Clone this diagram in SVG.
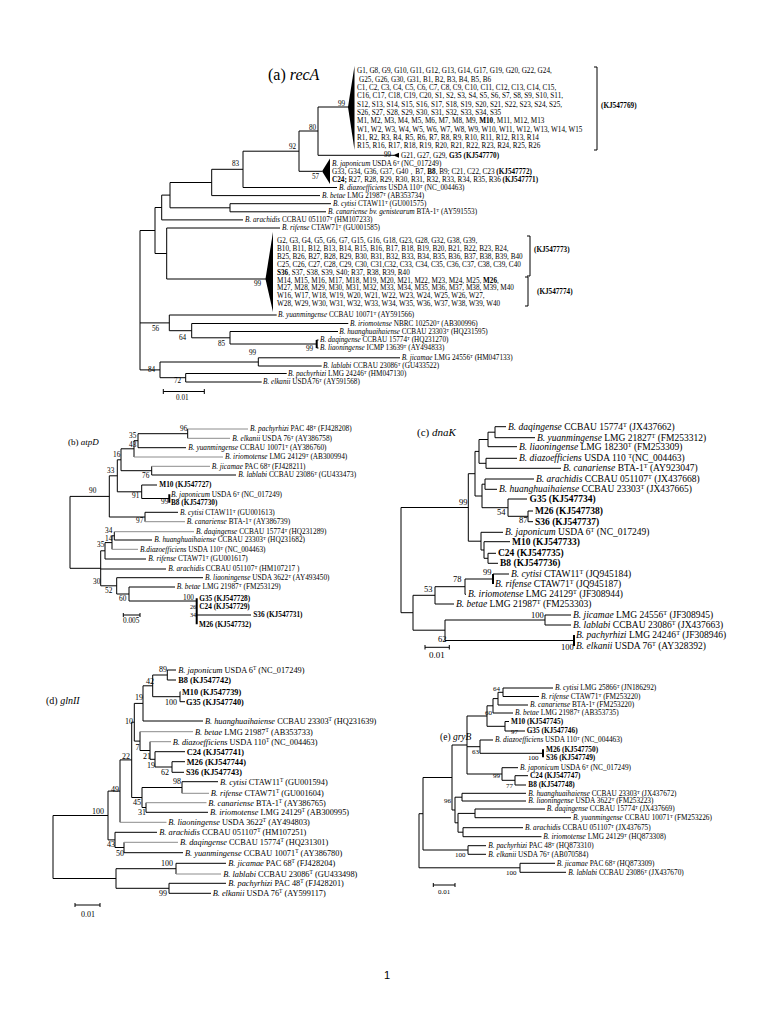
<svg xmlns="http://www.w3.org/2000/svg" width="768" height="1024" viewBox="0 0 768 1024">
<style>
text{font-family:"Liberation Serif","Times New Roman",serif;fill:#000}
.a{font-size:7.2px}
.b{font-size:7.3px}
.c{font-size:9.5px}
.d{font-size:8.3px}
.e{font-size:7.3px}
.i{font-style:italic}
.bo{font-weight:bold}
.s{baseline-shift:super;font-size:65%}
.ln{fill:none;stroke:#000;stroke-width:1}
.gr{fill:none;stroke:#8c8c8c;stroke-width:1}
.th{fill:none;stroke:#000;stroke-width:2}
.ttl{font-size:16px}
</style>
<rect width="768" height="1024" fill="#fff"/>

<!-- ================= (a) recA ================= -->
<g id="recA">
<text x="268" y="80" class="ttl">(a) <tspan class="i">recA</tspan></text>
<g id="connectors-recA">
<path class="ln" d="M318,107V155.3M318,107H349M318,155.3H394M299,131H318
M299,131V171.3M299,171.3H322M243,151.2H299
M243,151.2V187.5M243,187.5H337M211.7,169.3H243
M211.7,169.3V195.6M211.7,195.6H320M170,182.5H211.7
M230,203.7V211.8M230,203.7H331M230,211.8H326M170,207.8H230
M170,182.5V207.8M161.7,195.1H170
M161.7,195.1V219.9M161.7,219.9H243M155,207.5H161.7
M166.7,228V279M166.7,228H280M166.7,279H266M155,253.5H166.7
M155,207.5V253.5M140,230.5H155
M169.3,315V330.7M169.3,315H276.7M140,322.9H169.3
M191.7,323.5V337.8M191.7,323.5H348.3M169.3,330.7H191.7
M230,331.5V344M230,331.5H338M230,344H316.7M191.7,337.8H230
M316.7,340H318.5M316.7,348H318.5
M160,362V377.7M140,369.9H160
M258.3,357.8V366M258.3,357.8H400M258.3,366H321.7M160,362H258.3
M185.7,373.5V382M185.7,373.5H286.7M185.7,382H261.7M160,377.7H185.7
M140,230.5V369.9
M163.3,391.5H204.3M163.3,389V394M204.3,389V394
M594,67H597V150H594M527,236H530V276H527M525,277H528V306H525"/>
<path class="th" d="M316.7,340V348"/>
<polygon points="348,107 354.5,66 354.5,150" fill="#000"/>
<polygon points="393,155.3 399,152.8 399,157.8" fill="#000"/>
<polygon points="322,171.3 330,158.5 330,184" fill="#000"/>
<polygon points="265.5,279 273,232 273,312" fill="#000"/>
</g>
<g id="labels-recA" class="a">
<text x="338" y="105.5">99</text>
<text x="309" y="129.5">80</text>
<text x="289" y="149.2">92</text>
<text x="384" y="156.8">99</text>
<text x="312" y="178.5">57</text>
<text x="232" y="166">83</text>
<text x="254" y="285.5">99</text>
<text x="152" y="330.5">56</text>
<text x="179" y="340">64</text>
<text x="218" y="345.5">85</text>
<text x="306" y="350.5">99</text>
<text x="249" y="355">99</text>
<text x="148" y="372">84</text>
<text x="174" y="383">72</text>
<text x="176" y="400">0.01</text>
</g>
<g id="a-clade1" class="a">
<text x="357" y="73.4">G1, G8, G9, G10, G11, G12, G13, G14,  G17, G19, G20, G22, G24,</text>
<text x="359" y="81.7">G25, G26, G30, G31, B1, B2, B3, B4, B5, B6</text>
<text x="357" y="90">C1, C2, C3, C4, C5, C6, C7, C8, C9, C10, C11, C12, C13, C14, C15,</text>
<text x="357" y="98.3">C16, C17, C18, C19, C20, S1, S2, S3, S4, S5, S6, S7, S8, S9, S10, S11,</text>
<text x="357" y="106.6">S12, S13, S14, S15, S16, S17, S18, S19, S20, S21, S22, S23, S24, S25,</text>
<text x="357" y="114.9">S26, S27, S28, S29, S30, S31, S32, S33, S34, S35</text>
<text x="357" y="123.2">M1, M2, M3, M4, M5, M6, M7, M8, M9, <tspan class="bo">M10</tspan>, M11, M12, M13</text>
<text x="357" y="131.5">W1, W2, W3, W4, W5, W6, W7, W8, W9, W10, W11, W12, W13, W14, W15</text>
<text x="357" y="139.8">R1, R2, R3, R4, R5, R6, R7, R8, R9, R10, R11, R12, R13, R14</text>
<text x="357" y="148.1">R15, R16, R17, R18, R19, R20, R21, R22, R23, R24, R25, R26</text>
<text x="601" y="108.4" class="bo">(KJ547769)</text>
</g>
<g id="a-G21" class="a"><text x="401" y="157.7">G21, G27, G29, <tspan class="bo">G35 (KJ547770)</tspan></text></g>
<g id="a-japonicum" class="a"><text x="332" y="165.6"><tspan class="i">B. japonicum</tspan> USDA 6<tspan class="s">T</tspan> (NC_017249)</text></g>
<g id="a-G33" class="a"><text x="332" y="173.7">G33, G34, G36, G37, G40，B7, <tspan class="bo">B8</tspan>, B9; C21, C22, C23 <tspan class="bo">(KJ547772)</tspan></text></g>
<g id="a-C24" class="a"><text x="332" y="181.8"><tspan class="bo">C24;</tspan>  R27, R28, R29, R30, R31, R32, R33, R34, R35, R36 <tspan class="bo">(KJ547771)</tspan></text></g>
<g id="a-diazo" class="a"><text x="339" y="189.9"><tspan class="i">B. diazoefficiens</tspan> USDA 110<tspan class="s">T</tspan> (NC_004463)</text></g>
<g id="a-betae" class="a"><text x="322" y="198"><tspan class="i">B. betae</tspan> LMG 21987<tspan class="s">T</tspan> (AB353734)</text></g>
<g id="a-cytisi" class="a"><text x="333" y="206.1"><tspan class="i">B. cytisi</tspan> CTAW11<tspan class="s">T</tspan> (GU001575)</text></g>
<g id="a-canariense" class="a"><text x="328" y="214.2"><tspan class="i">B. canariense bv. genistearum</tspan> BTA-1<tspan class="s">T</tspan> (AY591553)</text></g>
<g id="a-arachidis" class="a"><text x="245" y="222.3"><tspan class="i">B. arachidis</tspan> CCBAU 051107<tspan class="s">T</tspan> (HM107233)</text></g>
<g id="a-rifense" class="a"><text x="282" y="230.4"><tspan class="i">B. rifense</tspan>  CTAW71<tspan class="s">T</tspan> (GU001585)</text></g>
<g id="a-clade2" class="a">
<text x="277" y="243.4">G2, G3, G4, G5, G6, G7, G15, G16, G18, G23, G28, G32, G38, G39,</text>
<text x="277" y="251.4">B10, B11, B12, B13, B14, B15, B16, B17, B18, B19, B20, B21, B22, B23, B24,</text>
<text x="277" y="259.4">B25, B26, B27, B28, B29, B30, B31, B32, B33, B34, B35, B36, B37, B38, B39, B40</text>
<text x="277" y="267.4">C25, C26, C27, C28, C29, C30, C31,C32, C33, C34, C35, C36, C37, C38, C39, C40</text>
<text x="277" y="274.9"><tspan class="bo">S36</tspan>, S37, S38, S39, S40; R37, R38, R39, R40</text>
<text x="277" y="282.9">M14, M15, M16, M17, M18, M19, M20, M21, M22, M23, M24, M25, <tspan class="bo">M26</tspan>,</text>
<text x="277" y="290.4">M27, M28, M29, M30, M31, M32, M33, M34, M35, M36, M37, M38, M39, M40</text>
<text x="277" y="298.4">W16, W17, W18, W19, W20, W21, W22, W23, W24, W25, W26, W27,</text>
<text x="277" y="305.9">W28, W29,  W30, W31, W32, W33, W34, W35, W36, W37, W38, W39, W40</text>
<text x="534" y="252.4" class="bo">(KJ547773)</text>
<text x="537" y="294" class="bo">(KJ547774)</text>
</g>
<g id="a-yuanmingense" class="a"><text x="278" y="317.4"><tspan class="i">B. yuanmingense</tspan> CCBAU 10071<tspan class="s">T</tspan> (AY591566)</text></g>
<g id="a-iriomotense" class="a"><text x="350" y="325.9"><tspan class="i">B. iriomotense</tspan> NBRC 102520<tspan class="s">T</tspan> (AB300996)</text></g>
<g id="a-huanghuaihaiense" class="a"><text x="339.3" y="333.9"><tspan class="i">B. huanghuaihaiense</tspan> CCBAU 23303<tspan class="s">T</tspan> (HQ231595)</text></g>
<g id="a-daqingense" class="a"><text x="320" y="342.4"><tspan class="i">B. daqingense</tspan> CCBAU 15774<tspan class="s">T</tspan>  (HQ231270)</text></g>
<g id="a-liaoningense" class="a"><text x="320" y="350.4"><tspan class="i">B. liaoningense</tspan> ICMP 13639<tspan class="s">T</tspan> (AY494833)</text></g>
<g id="a-jicamae" class="a"><text x="401.7" y="360.2"><tspan class="i">B. jicamae</tspan> LMG 24556<tspan class="s">T</tspan> (HM047133)</text></g>
<g id="a-lablabi" class="a"><text x="323" y="368.4"><tspan class="i">B. lablabi</tspan> CCBAU 23086<tspan class="s">T</tspan> (GU433522)</text></g>
<g id="a-pachyrhizi" class="a"><text x="288" y="375.9"><tspan class="i">B. pachyrhizi</tspan> LMG 24246<tspan class="s">T</tspan> (HM047130)</text></g>
<g id="a-elkanii" class="a"><text x="263" y="384.4"><tspan class="i">B. elkanii</tspan> USDA76<tspan class="s">T</tspan> (AY591568)</text></g>
</g>

<!-- ================= (b) atpD ================= -->
<g id="atpD">
<text x="68" y="444.5" style="font-size:9px">(b) <tspan class="i">atpD</tspan></text>
<g id="connectors-atpD">
<path class="ln" d="M187.7,429V438.3M138,433.7H187.7M138,447.7H186
M138,433.7V447.7M134,440.7H138
M134,440.7V457M121,448.8H134
M151.7,466.3V475M151.7,475H236M121,470.7H151.7
M121,448.8V470.7M117.3,459.8H121
M141.7,485V498.5M141.7,485H157M141.7,498.5H169.3
M117.3,459.8V491.8M117.3,491.8H141.7
M145,512.3V521.7M145,512.3H178
M109.3,475.8V517M109.3,475.8H117.3M109.3,517H145
M70,496.4H109.3M70,496.4V568.3M70,568.3H100.7
M114.3,531.7V540M114.3,540H152
M112,535.8V549.3M112,535.8H114.3
M105,542.6V559M105,542.6H112M105,559H146
M100.7,550.8V585.8M100.7,550.8H105M100.7,569H166M100.7,585.8H116.7
M116.7,577.7V594M116.7,577.7H203M116.7,594H129
M129,587V601M129,587H175M129,601H196.7
M196.7,615H251
M123.3,615H140M123.3,613V617M140,613V617"/>
<path class="gr" d="M187.7,429H248M187.7,438.3H230M134,457H223M151.7,466.3H210M145,521.7H185M114.3,531.7H194M112,549.3H138"/>
<path class="th" d="M169.3,494.3V502.7M196.7,598.3V624.3"/>
</g>
<g id="labels-atpD" class="b">
<text x="180" y="431">96</text>
<text x="129" y="438">35</text>
<text x="129" y="447">43</text>
<text x="113" y="457">16</text>
<text x="142" y="478">76</text>
<text x="107" y="473">33</text>
<text x="89" y="493">90</text>
<text x="132" y="497.5">91</text>
<text x="161" y="504">99</text>
<text x="136" y="522.5">97</text>
<text x="105" y="533">34</text>
<text x="105" y="541">14</text>
<text x="97" y="547">35</text>
<text x="93" y="583.5">30</text>
<text x="105" y="593">52</text>
<text x="119" y="601">60</text>
<text x="183" y="600">100</text>
<text x="190" y="609.3" style="font-size:6.2px">26</text>
<text x="190" y="617" style="font-size:6.2px">34</text>
<text x="123" y="622.5">0.005</text>
</g>
<g id="b-pachyrhizi" class="b"><text x="250" y="431.4"><tspan class="i">B. pachyrhizi</tspan> PAC 48<tspan class="s">T</tspan> (FJ428208)</text></g>
<g id="b-elkanii" class="b"><text x="232.3" y="440.7"><tspan class="i">B. elkanii</tspan> USDA 76<tspan class="s">T</tspan> (AY386758)</text></g>
<g id="b-yuanmingense" class="b"><text x="188.3" y="450.1"><tspan class="i">B. yuanmingense</tspan> CCBAU 10071<tspan class="s">T</tspan> (AY386760)</text></g>
<g id="b-iriomotense" class="b"><text x="225" y="459.4"><tspan class="i">B. iriomotense</tspan> LMG 24129<tspan class="s">T</tspan> (AB300994)</text></g>
<g id="b-jicamae" class="b"><text x="211.7" y="468.7"><tspan class="i">B. jicamae</tspan> PAC 68<tspan class="s">T</tspan> (FJ428211)</text></g>
<g id="b-lablabi" class="b"><text x="238.3" y="477.4"><tspan class="i">B. lablabi</tspan> CCBAU 23086<tspan class="s">T</tspan> (GU433473)</text></g>
<g id="b-M10" class="b"><text x="159.3" y="487.4" class="bo">M10 (KJ547727)</text></g>
<g id="b-japonicum" class="b"><text x="171" y="496.7"><tspan class="i">B. japonicum</tspan> USDA 6<tspan class="s">T</tspan> (NC_017249)</text></g>
<g id="b-B8" class="b"><text x="171" y="505.1" class="bo">B8 (KJ547730)</text></g>
<g id="b-cytisi" class="b"><text x="180" y="514.7"><tspan class="i">B. cytisi</tspan> CTAW11<tspan class="s">T</tspan> (GU001613)</text></g>
<g id="b-canariense" class="b"><text x="186.7" y="524.1"><tspan class="i">B. canariense</tspan> BTA-1<tspan class="s">T</tspan> (AY386739)</text></g>
<g id="b-daqingense" class="b"><text x="196" y="534.1"><tspan class="i">B. daqingense</tspan> CCBAU 15774<tspan class="s">T</tspan> (HQ231289)</text></g>
<g id="b-huanghuaihaiense" class="b"><text x="154.3" y="542.4"><tspan class="i">B. huanghuaihaiense</tspan> CCBAU 23303<tspan class="s">T</tspan> (HQ231682)</text></g>
<g id="b-diazoefficiens" class="b"><text x="140" y="551.7"><tspan class="i">B.diazoefficiens</tspan> USDA 110<tspan class="s">T</tspan> (NC_004463)</text></g>
<g id="b-rifense" class="b"><text x="148.3" y="561.4"><tspan class="i">B. rifense</tspan> CTAW71<tspan class="s">T</tspan> (GU001617)</text></g>
<g id="b-arachidis" class="b"><text x="168.3" y="571.4"><tspan class="i">B. arachidis</tspan> CCBAU 051107<tspan class="s">T</tspan> (HM107217 )</text></g>
<g id="b-liaoningense" class="b"><text x="205" y="580.1"><tspan class="i">B. liaoningense</tspan> USDA 3622<tspan class="s">T</tspan> (AY493450)</text></g>
<g id="b-betae" class="b"><text x="176.7" y="589.4"><tspan class="i">B. betae</tspan> LMG 21987<tspan class="s">T</tspan> (FM253129)</text></g>
<g id="b-G35" class="b"><text x="199.3" y="600.7" class="bo">G35 (KJ547728)</text></g>
<g id="b-C24" class="b"><text x="199.3" y="608.7" class="bo">C24 (KJ547729)</text></g>
<g id="b-S36" class="b"><text x="253.3" y="617.4" class="bo">S36 (KJ547731)</text></g>
<g id="b-M26" class="b"><text x="199" y="626.7" class="bo">M26 (KJ547732)</text></g>
</g>

<!-- ================= (c) dnaK ================= -->
<g id="dnaK">
<text x="417" y="436" style="font-size:11px">(c) <tspan class="i">dnaK</tspan></text>
<g id="connectors-dnaK">
<path class="ln" d="M495,426.7V437.7M495,426.7H506M495,437.7H535
M488,432.2V446.7M488,432.2H495M488,446.7H517
M486,458.3V468.3M486,458.3H517M486,468.3H561
M479,439.5V463.3M479,439.5H488M479,463.3H486
M485,479V489.3M485,479H534M485,489.3H497
M528,511V521.7M528,511H533M528,521.7H533
M508,499V516.3M508,499H527M508,516.3H528
M482,484.2V507.7M482,484.2H485M482,507.7H508
M475,451.4V496M475,451.4H479M475,496H482
M488,553.3V563.3M488,553.3H496M488,563.3H498
M484,541.7V558.3M484,541.7H510M484,558.3H488
M481,532.3V550M481,532.3H503M481,550H484
M468.3,473.7V541.2M468.3,473.7H475M468.3,541.2H481
M401,507.5H468.3M401,507.5V612.7M401,612.7H413
M493,574H509
M465,579V594.3M465,579H493M465,594.3H466
M435,586.7V604M435,586.7H465M435,604H454
M545,615V625M545,615H571M545,625H571
M445,620V640.5M445,620H545M445,640.5H574
M413,595.3V630.2M413,595.3H435M413,630.2H445
M425,647.3H449.3M425,645V649.5M449.3,645V649.5"/>
<path class="th" d="M493,574V584M574,635V646"/>
</g>
<g id="labels-dnaK" style="font-size:8.5px">
<text x="519" y="522.5">87</text>
<text x="497" y="515">54</text>
<text x="459" y="505">99</text>
<text x="483" y="574.5">99</text>
<text x="453" y="581.5">78</text>
<text x="424" y="591.5">53</text>
<text x="531" y="618">100</text>
<text x="561" y="650">100</text>
<text x="438" y="642">62</text>
<text x="429" y="658" style="font-size:9px">0.01</text>
</g>
<g id="c-daqingense" class="c"><text x="508" y="429.8"><tspan class="i">B. daqingense</tspan> CCBAU 15774<tspan class="s">T</tspan> (JX437662)</text></g>
<g id="c-yuanmingense" class="c"><text x="537" y="440.8"><tspan class="i">B. yuanmingense</tspan> LMG 21827<tspan class="s">T</tspan> (FM253312)</text></g>
<g id="c-liaoningense" class="c"><text x="519" y="449.8"><tspan class="i">B. liaoningense</tspan> LMG 18230<tspan class="s">T</tspan> (FM253309)</text></g>
<g id="c-diazoefficiens" class="c"><text x="519" y="461.4"><tspan class="i">B. diazoefficiens</tspan> USDA 110 <tspan class="s">T</tspan>(NC_004463)</text></g>
<g id="c-canariense" class="c"><text x="563" y="471.4"><tspan class="i">B. canariense</tspan>  BTA-1<tspan class="s">T</tspan> (AY923047)</text></g>
<g id="c-arachidis" class="c"><text x="536" y="482.1"><tspan class="i">B. arachidis</tspan> CCBAU 051107<tspan class="s">T</tspan> (JX437668)</text></g>
<g id="c-huanghuaihaiense" class="c"><text x="499" y="492.4"><tspan class="i">B. huanghuaihaiense</tspan> CCBAU 23303<tspan class="s">T</tspan> (JX437665)</text></g>
<g id="c-G35" class="c"><text x="529.5" y="502.1" class="bo">G35 (KJ547734)</text></g>
<g id="c-M26" class="c"><text x="535" y="514.1" class="bo">M26 (KJ547738)</text></g>
<g id="c-S36" class="c"><text x="535" y="524.8" class="bo">S36 (KJ547737)</text></g>
<g id="c-japonicum" class="c"><text x="505" y="535.4"><tspan class="i">B. japonicum</tspan> USDA 6<tspan class="s">T</tspan> (NC_017249)</text></g>
<g id="c-M10" class="c"><text x="512" y="544.8" class="bo">M10 (KJ547733)</text></g>
<g id="c-C24" class="c"><text x="498" y="556.4" class="bo">C24 (KJ547735)</text></g>
<g id="c-B8" class="c"><text x="500" y="566.4" class="bo">B8 (KJ547736)</text></g>
<g id="c-cytisi" class="c"><text x="511" y="577.1"><tspan class="i">B. cytisi</tspan> CTAW11<tspan class="s">T</tspan> (JQ945184)</text></g>
<g id="c-rifense" class="c"><text x="495" y="587.1"><tspan class="i">B. rifense</tspan> CTAW71<tspan class="s">T</tspan> (JQ945187)</text></g>
<g id="c-iriomotense" class="c"><text x="468" y="597.4"><tspan class="i">B. iriomotense</tspan> LMG 24129<tspan class="s">T</tspan> (JF308944)</text></g>
<g id="c-betae" class="c"><text x="456" y="607.1"><tspan class="i">B. betae</tspan> LMG 21987<tspan class="s">T</tspan> (FM253303)</text></g>
<g id="c-jicamae" class="c"><text x="573" y="618.1"><tspan class="i">B. jicamae</tspan> LMG 24556<tspan class="s">T</tspan> (JF308945)</text></g>
<g id="c-lablabi" class="c"><text x="573" y="628.1"><tspan class="i">B. lablabi</tspan> CCBAU 23086<tspan class="s">T</tspan> (JX437663)</text></g>
<g id="c-pachyrhizi" class="c"><text x="576" y="638.1"><tspan class="i">B. pachyrhizi</tspan>  LMG 24246<tspan class="s">T</tspan> (JF308946)</text></g>
<g id="c-elkanii" class="c"><text x="576" y="649.1"><tspan class="i">B. elkanii</tspan> USDA 76<tspan class="s">T</tspan> (AY328392)</text></g>
</g>

<!-- ================= (d) glnII ================= -->
<g id="glnII">
<text x="46" y="703.5" style="font-size:10px">(d) <tspan class="i">glnII</tspan></text>
<g id="connectors-glnII">
<path class="ln" d="M167.3,670V680M167.3,670H176M167.3,680H176
M180,691.7V701.7M180,701.7H185
M152.7,675V696.7M152.7,675H167.3M152.7,696.7H180
M143,685.8V721M143,685.8H152.7M143,721H203
M172,761.7V772.3M172,761.7H185M172,772.3H184
M155,751.7V767M155,751.7H185M155,767H172
M150,741.7V759.3M150,759.3H155
M140,731.7V750.5M140,750.5H150
M134.3,703.4V741.1M134.3,703.4H143M134.3,741.1H140
M182,781.7V793.3M182,781.7H218
M146,802.7V812.3M146,812.3H208
M142,787.5V807.5M142,787.5H182M142,807.5H146
M131.7,722.2V797.5M131.7,722.2H134.3M131.7,797.5H142
M120,759.9V822.3M120,759.9H131.7
M124,842.3V852.7M124,852.7H183
M115,832.3V847.5M115,832.3H157M115,847.5H124
M108,791.1V839.9M108,791.1H120M108,839.9H115
M176,863.3V874M176,863.3H226
M169,883.3V893.3M169,883.3H226M169,893.3H211
M116,868.7V888.3M116,868.7H176M116,888.3H169
M53,815.5V878.5M53,815.5H108M53,878.5H116
M75,905H100M75,903V907M100,903V907"/>
<path class="gr" d="M180,691.7H181M150,741.7H171M140,731.7H193M182,793.3H209M146,802.7H206.5M120,822.3H166.5M124,842.3H178M176,874H221"/>
</g>
<g id="labels-glnII" style="font-size:8px">
<text x="159" y="671.5">89</text>
<text x="146" y="684">42</text>
<text x="165" y="704.5">100</text>
<text x="135" y="700">19</text>
<text x="125" y="724">10</text>
<text x="135.5" y="749.5">7</text>
<text x="143" y="758.5">21</text>
<text x="147" y="768">19</text>
<text x="161" y="775">62</text>
<text x="122" y="759">22</text>
<text x="173" y="784">98</text>
<text x="111" y="792">49</text>
<text x="133" y="805">45</text>
<text x="138" y="815">31</text>
<text x="92" y="814">100</text>
<text x="107" y="847">43</text>
<text x="116" y="855.5">50</text>
<text x="161" y="866">100</text>
<text x="159" y="896">99</text>
<text x="81" y="917">0.01</text>
</g>
<g id="d-japonicum" class="d"><text x="178.3" y="672.8"><tspan class="i">B. japonicum</tspan> USDA 6<tspan class="s">T</tspan> (NC_017249)</text></g>
<g id="d-B8" class="d"><text x="178.3" y="682.8" class="bo">B8 (KJ547742)</text></g>
<g id="d-M10" class="d"><text x="182" y="694.5" class="bo">M10 (KJ547739)</text></g>
<g id="d-G35" class="d"><text x="186" y="704.5" class="bo">G35 (KJ547740)</text></g>
<g id="d-huanghuaihaiense" class="d"><text x="205" y="723.8"><tspan class="i">B. huanghuaihaiense</tspan> CCBAU 23303<tspan class="s">T</tspan> (HQ231639)</text></g>
<g id="d-betae" class="d"><text x="195" y="734.5"><tspan class="i">B. betae</tspan> LMG 21987<tspan class="s">T</tspan> (AB353733)</text></g>
<g id="d-diazoefficiens" class="d"><text x="172.7" y="744.5"><tspan class="i">B. diazoefficiens</tspan> USDA 110<tspan class="s">T</tspan> (NC_004463)</text></g>
<g id="d-C24" class="d"><text x="186.7" y="754.5" class="bo">C24 (KJ547741)</text></g>
<g id="d-M26" class="d"><text x="186.7" y="764.5" class="bo">M26 (KJ547744)</text></g>
<g id="d-S36" class="d"><text x="186" y="775.1" class="bo">S36 (KJ547743)</text></g>
<g id="d-cytisi" class="d"><text x="220" y="784.5"><tspan class="i">B. cytisi</tspan> CTAW11<tspan class="s">T</tspan> (GU001594)</text></g>
<g id="d-rifense" class="d"><text x="210.7" y="796.1"><tspan class="i">B. rifense</tspan> CTAW71<tspan class="s">T</tspan> (GU001604)</text></g>
<g id="d-canariense" class="d"><text x="208.3" y="805.5"><tspan class="i">B. canariense</tspan> BTA-1<tspan class="s">T</tspan> (AY386765)</text></g>
<g id="d-iriomotense" class="d"><text x="210" y="815.1"><tspan class="i">B. iriomotense</tspan> LMG 24129<tspan class="s">T</tspan> (AB300995)</text></g>
<g id="d-liaoningense" class="d"><text x="168.3" y="825.1"><tspan class="i">B. liaoningense</tspan> USDA 3622<tspan class="s">T</tspan> (AY494803)</text></g>
<g id="d-arachidis" class="d"><text x="159.3" y="835.1"><tspan class="i">B. arachidis</tspan> CCBAU 051107<tspan class="s">T</tspan> (HM107251)</text></g>
<g id="d-daqingense" class="d"><text x="180" y="845.1"><tspan class="i">B. daqingense</tspan> CCBAU 15774<tspan class="s">T</tspan> (HQ231301)</text></g>
<g id="d-yuanmingense" class="d"><text x="185" y="855.5"><tspan class="i">B. yuanmingense</tspan> CCBAU 10071<tspan class="s">T</tspan> (AY386780)</text></g>
<g id="d-jicamae" class="d"><text x="228.3" y="866.1"><tspan class="i">B. jicamae</tspan> PAC 68<tspan class="s">T</tspan> (FJ428204)</text></g>
<g id="d-lablabi" class="d"><text x="223.3" y="876.8"><tspan class="i">B. lablabi</tspan> CCBAU 23086<tspan class="s">T</tspan> (GU433498)</text></g>
<g id="d-pachyrhizi" class="d"><text x="228.3" y="886.1"><tspan class="i">B. pachyrhizi</tspan> PAC 48<tspan class="s">T</tspan> (FJ428201)</text></g>
<g id="d-elkanii" class="d"><text x="212.7" y="896.1"><tspan class="i">B. elkanii</tspan> USDA 76<tspan class="s">T</tspan> (AY599117)</text></g>
</g>

<!-- ================= (e) gryB ================= -->
<g id="gryB">
<text x="440" y="740" style="font-size:9.5px">(e) <tspan class="i">gryB</tspan></text>
<g id="connectors-gryB">
<path class="ln" d="M503,688V696.5M503,688H553M503,696.5H539
M498,692.3V705M498,692.3H503M498,705H528
M493,698.6V713M493,698.6H498M493,713H513
M505,721.5V731M505,721.5H509M505,731H525
M487,705.8V726.3M487,705.8H493M487,726.3H505
M480,740V753.3M480,740H493M480,753.3H543
M502,767.7V780.3M502,767.7H518M502,780.3H515
M515,775.7V785M515,775.7H528M515,785H526
M467,716V774M467,716H487M467,746.7H480M467,774H502
M462,793.3V801M462,793.3H526M462,801H526
M475,809V817.7M475,809H545M475,817.7H571
M463,827.7V836.7M463,827.7H523M463,836.7H541.5
M458,813.4V832.2M458,813.4H475M458,832.2H463
M455,797.2V822.8M455,797.2H462M455,822.8H458
M452,745V810M452,745H467M452,810H455
M468,845.7V854.3M468,845.7H486M468,854.3H486
M423,777.5V850M423,777.5H452M423,850H468
M520,863.3V872.3M520,863.3H555M520,872.3H566
M419,813.7V867.8M419,813.7H423M419,867.8H520
M433.3,885H455M433.3,883V887M455,883V887"/>
<path class="th" d="M543,749.3V757.3"/>
</g>
<g id="labels-gryB" style="font-size:7px">
<text x="493" y="690.5">64</text>
<text x="485" y="714.5">60</text>
<text x="511" y="733.5">97</text>
<text x="472" y="754">63</text>
<text x="528" y="760">100</text>
<text x="493" y="777.5">99</text>
<text x="506" y="787.5">77</text>
<text x="444" y="803">96</text>
<text x="455" y="857">100</text>
<text x="506" y="874.5">100</text>
<text x="438" y="894">0.01</text>
</g>
<g id="e-cytisi" class="e"><text x="555" y="690.3"><tspan class="i">B. cytisi</tspan> LMG 25866<tspan class="s">T</tspan> (JN186292)</text></g>
<g id="e-rifense" class="e"><text x="541" y="698.8"><tspan class="i">B. rifense</tspan> CTAW71<tspan class="s">T</tspan> (FM253220)</text></g>
<g id="e-canariense" class="e"><text x="530" y="707.3"><tspan class="i">B. canariense</tspan> BTA-1<tspan class="s">T</tspan> (FM253220)</text></g>
<g id="e-betae" class="e"><text x="515" y="715.3"><tspan class="i">B. betae</tspan> LMG 21987<tspan class="s">T</tspan> (AB353735)</text></g>
<g id="e-M10" class="e"><text x="511" y="723.8" class="bo">M10 (KJ547745)</text></g>
<g id="e-G35" class="e"><text x="526.7" y="733.3" class="bo">G35 (KJ547746)</text></g>
<g id="e-diazoefficiens" class="e"><text x="495" y="742.3"><tspan class="i">B. diazoefficiens</tspan> USDA 110<tspan class="s">T</tspan> (NC_004463)</text></g>
<g id="e-M26" class="e"><text x="546" y="751.6" class="bo">M26 (KJ547750)</text></g>
<g id="e-S36" class="e"><text x="546" y="759.6" class="bo">S36 (KJ547749)</text></g>
<g id="e-japonicum" class="e"><text x="520" y="770"><tspan class="i">B. japonicum</tspan> USDA 6<tspan class="s">T</tspan> (NC_017249)</text></g>
<g id="e-C24" class="e"><text x="530" y="778" class="bo">C24 (KJ547747)</text></g>
<g id="e-B8" class="e"><text x="528.3" y="787.3" class="bo">B8 (KJ547748)</text></g>
<g id="e-huanghuaihaiense" class="e"><text x="528.3" y="795.6"><tspan class="i">B. huanghuaihaiense</tspan> CCBAU 23303<tspan class="s">T</tspan> (JX437672)</text></g>
<g id="e-liaoningense" class="e"><text x="528.3" y="803.3"><tspan class="i">B. liaoningense</tspan> USDA 3622<tspan class="s">T</tspan> (FM253223)</text></g>
<g id="e-daqingense" class="e"><text x="546.7" y="811.3"><tspan class="i">B. daqingense</tspan> CCBAU 15774<tspan class="s">T</tspan> (JX437669)</text></g>
<g id="e-yuanmingense" class="e"><text x="573" y="820"><tspan class="i">B. yuanmingense</tspan> CCBAU 10071<tspan class="s">T</tspan> (FM253226)</text></g>
<g id="e-arachidis" class="e"><text x="525" y="830"><tspan class="i">B. arachidis</tspan> CCBAU 051107<tspan class="s">T</tspan> (JX437675)</text></g>
<g id="e-iriomotense" class="e"><text x="543.3" y="839"><tspan class="i">B. iriomotense</tspan> LMG 24129<tspan class="s">T</tspan> (HQ873308)</text></g>
<g id="e-pachyrhizi" class="e"><text x="488.3" y="848"><tspan class="i">B. pachyrhizi</tspan> PAC 48<tspan class="s">T</tspan> (HQ873310)</text></g>
<g id="e-elkanii" class="e"><text x="488.3" y="856.6"><tspan class="i">B. elkanii</tspan> USDA 76<tspan class="s">T</tspan> (AB070584)</text></g>
<g id="e-jicamae" class="e"><text x="556.7" y="865.6"><tspan class="i">B. jicamae</tspan> PAC 68<tspan class="s">T</tspan> (HQ873309)</text></g>
<g id="e-lablabi" class="e"><text x="568.3" y="874.6"><tspan class="i">B. lablabi</tspan> CCBAU 23086<tspan class="s">T</tspan> (JX437670)</text></g>
</g>

<g id="page-number"><text x="384" y="979" style="font-size:11px;font-family:'Liberation Sans',Arial,sans-serif">1</text></g>
</svg>
